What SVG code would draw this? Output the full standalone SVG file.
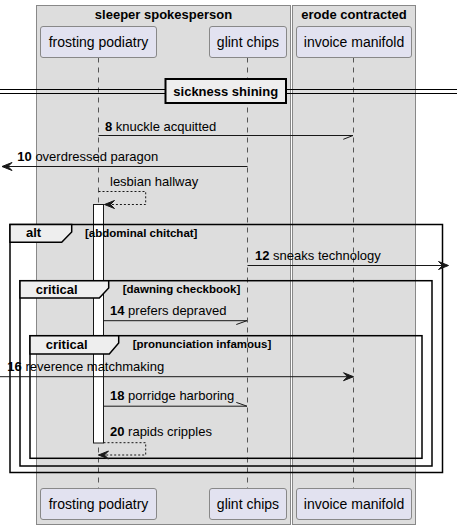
<svg xmlns="http://www.w3.org/2000/svg" width="457" height="529" viewBox="0 0 457 529">
<style>
.box{fill:#DDDDDD;stroke:#888888;stroke-width:1}
.part{fill:#E2E2F0;stroke:#888888;stroke-width:1}
.life{stroke:#555555;stroke-width:1;stroke-dasharray:5 5;fill:none}
.t14{font-family:"Liberation Sans",Arial,sans-serif;font-size:14px;fill:#000}
.tb13{font-family:"Liberation Sans",Arial,sans-serif;font-size:13px;font-weight:bold;fill:#000}
.t13{font-family:"Liberation Sans",Arial,sans-serif;font-size:13px;fill:#000}
.tb11{font-family:"Liberation Sans",Arial,sans-serif;font-size:11.5px;font-weight:bold;fill:#000}
.msg{stroke:#181818;stroke-width:1;fill:none}
.dash{stroke:#181818;stroke-width:1;fill:none;stroke-dasharray:2 2}
.head{fill:#181818;stroke:#181818;stroke-width:1}
.frame{fill:none;stroke:#000;stroke-width:1.5}
.tab{fill:#EEEEEE;stroke:#000;stroke-width:1.5}
</style>
<g id="group-sleeper">
<rect class="box" x="36.5" y="5.5" width="254" height="519"/>
<text class="tb13" x="163.5" y="19" text-anchor="middle">sleeper spokesperson</text>
</g>
<g id="group-erode">
<rect class="box" x="292.5" y="5.5" width="123" height="519"/>
<text class="tb13" x="354" y="19" text-anchor="middle">erode contracted</text>
</g>
<g id="lifelines">
<line class="life" x1="98.5" y1="57.5" x2="98.5" y2="488"/>
<line class="life" x1="247.5" y1="57.5" x2="247.5" y2="488"/>
<line class="life" x1="353.5" y1="57.5" x2="353.5" y2="488"/>
</g>
<g id="frosting-podiatry">
<rect class="part" x="40.5" y="26.5" width="116" height="31" rx="2.5"/>
<text class="t14" x="98.5" y="47" text-anchor="middle">frosting podiatry</text>
<rect class="part" x="40.5" y="488.5" width="116" height="31" rx="2.5"/>
<text class="t14" x="98.5" y="509" text-anchor="middle">frosting podiatry</text>
</g>
<g id="glint-chips">
<rect class="part" x="209.5" y="26.5" width="77" height="31" rx="2.5"/>
<text class="t14" x="248" y="47" text-anchor="middle">glint chips</text>
<rect class="part" x="209.5" y="488.5" width="77" height="31" rx="2.5"/>
<text class="t14" x="248" y="509" text-anchor="middle">glint chips</text>
</g>
<g id="invoice-manifold">
<rect class="part" x="296.5" y="26.5" width="115" height="31" rx="2.5"/>
<text class="t14" x="354" y="47" text-anchor="middle">invoice manifold</text>
<rect class="part" x="296.5" y="488.5" width="115" height="31" rx="2.5"/>
<text class="t14" x="354" y="509" text-anchor="middle">invoice manifold</text>
</g>
<g id="divider">
<line x1="0" y1="89.5" x2="457" y2="89.5" stroke="#000" stroke-width="1"/>
<line x1="0" y1="93.5" x2="457" y2="93.5" stroke="#000" stroke-width="1"/>
<rect x="165.5" y="79" width="120.5" height="24" fill="#EEEEEE" stroke="#000" stroke-width="2"/>
<text class="tb13" x="225.7" y="96" text-anchor="middle">sickness shining</text>
</g>
<g id="activation">
<rect x="93.5" y="204.5" width="10" height="238.5" fill="#FFFFFF" stroke="#181818" stroke-width="1"/>
</g>
<g id="frames">
<rect class="frame" x="10" y="224.5" width="432.5" height="248"/>
<path class="tab" d="M10,224.5 H71.7 V232 L61.7,242.3 H10 Z"/>
<text class="tb13" x="26" y="237">alt</text>
<text class="tb11" x="85" y="237">[abdominal chitchat]</text>
<rect class="frame" x="20" y="280.7" width="412" height="185.3"/>
<path class="tab" d="M20,280.7 H108.7 V288 L99.3,298 H20 Z"/>
<text class="tb13" x="35.7" y="294">critical</text>
<text class="tb11" x="122.7" y="293">[dawning checkbook]</text>
<rect class="frame" x="30" y="335.7" width="392" height="122.6"/>
<path class="tab" d="M30,335.7 H118.7 V343 L109.3,354 H30 Z"/>
<text class="tb13" x="45.7" y="349">critical</text>
<text class="tb11" x="132.7" y="348">[pronunciation infamous]</text>
</g>
<g id="connectors">
<line class="msg" x1="98.5" y1="135.5" x2="353" y2="135.5"/>
<line class="msg" x1="343.3" y1="139.3" x2="353" y2="135.5"/>
<text class="t13" x="105" y="131"><tspan font-weight="bold">8</tspan> knuckle acquitted</text>
<line class="msg" x1="247.5" y1="166.5" x2="2" y2="166.5"/>
<polygon class="head" points="2,166.5 12,162.5 8,166.5 12,170.5"/>
<text class="t13" x="17.3" y="161"><tspan font-weight="bold">10</tspan> overdressed paragon</text>
<polyline class="dash" points="98.5,191.5 145.7,191.5 145.7,204.5 104.5,204.5"/>
<polygon class="head" points="104.5,204.5 114.5,200.5 110.5,204.5 114.5,208.5"/>
<text class="t13" x="110" y="186">lesbian hallway</text>
<line class="msg" x1="247.5" y1="265.5" x2="448" y2="265.5"/>
<polygon class="head" points="448.5,265.5 438.5,261.5 442.5,265.5 438.5,269.5"/>
<text class="t13" x="255" y="260"><tspan font-weight="bold">12</tspan> sneaks technology</text>
<line class="msg" x1="103.5" y1="320.7" x2="247" y2="320.7"/>
<line class="msg" x1="236.3" y1="324.5" x2="247" y2="320.7"/>
<text class="t13" x="110" y="315"><tspan font-weight="bold">14</tspan> prefers depraved</text>
<line class="msg" x1="0" y1="376.7" x2="353" y2="376.7"/>
<polygon class="head" points="353.5,376.7 343.5,372.7 347.5,376.7 343.5,380.7"/>
<text class="t13" x="7.3" y="371"><tspan font-weight="bold">16</tspan> reverence matchmaking</text>
<line class="msg" x1="103.5" y1="406.2" x2="247" y2="406.2"/>
<line class="msg" x1="236.3" y1="402.4" x2="247" y2="406.2"/>
<text class="t13" x="110" y="400"><tspan font-weight="bold">18</tspan> porridge harboring</text>
<polyline class="dash" points="103.5,442.7 145.7,442.7 145.7,455 98.5,455"/>
<polygon class="head" points="98.5,455 108.5,451 104.5,455 108.5,459"/>
<text class="t13" x="110" y="436"><tspan font-weight="bold">20</tspan> rapids cripples</text>
</g>
</svg>
